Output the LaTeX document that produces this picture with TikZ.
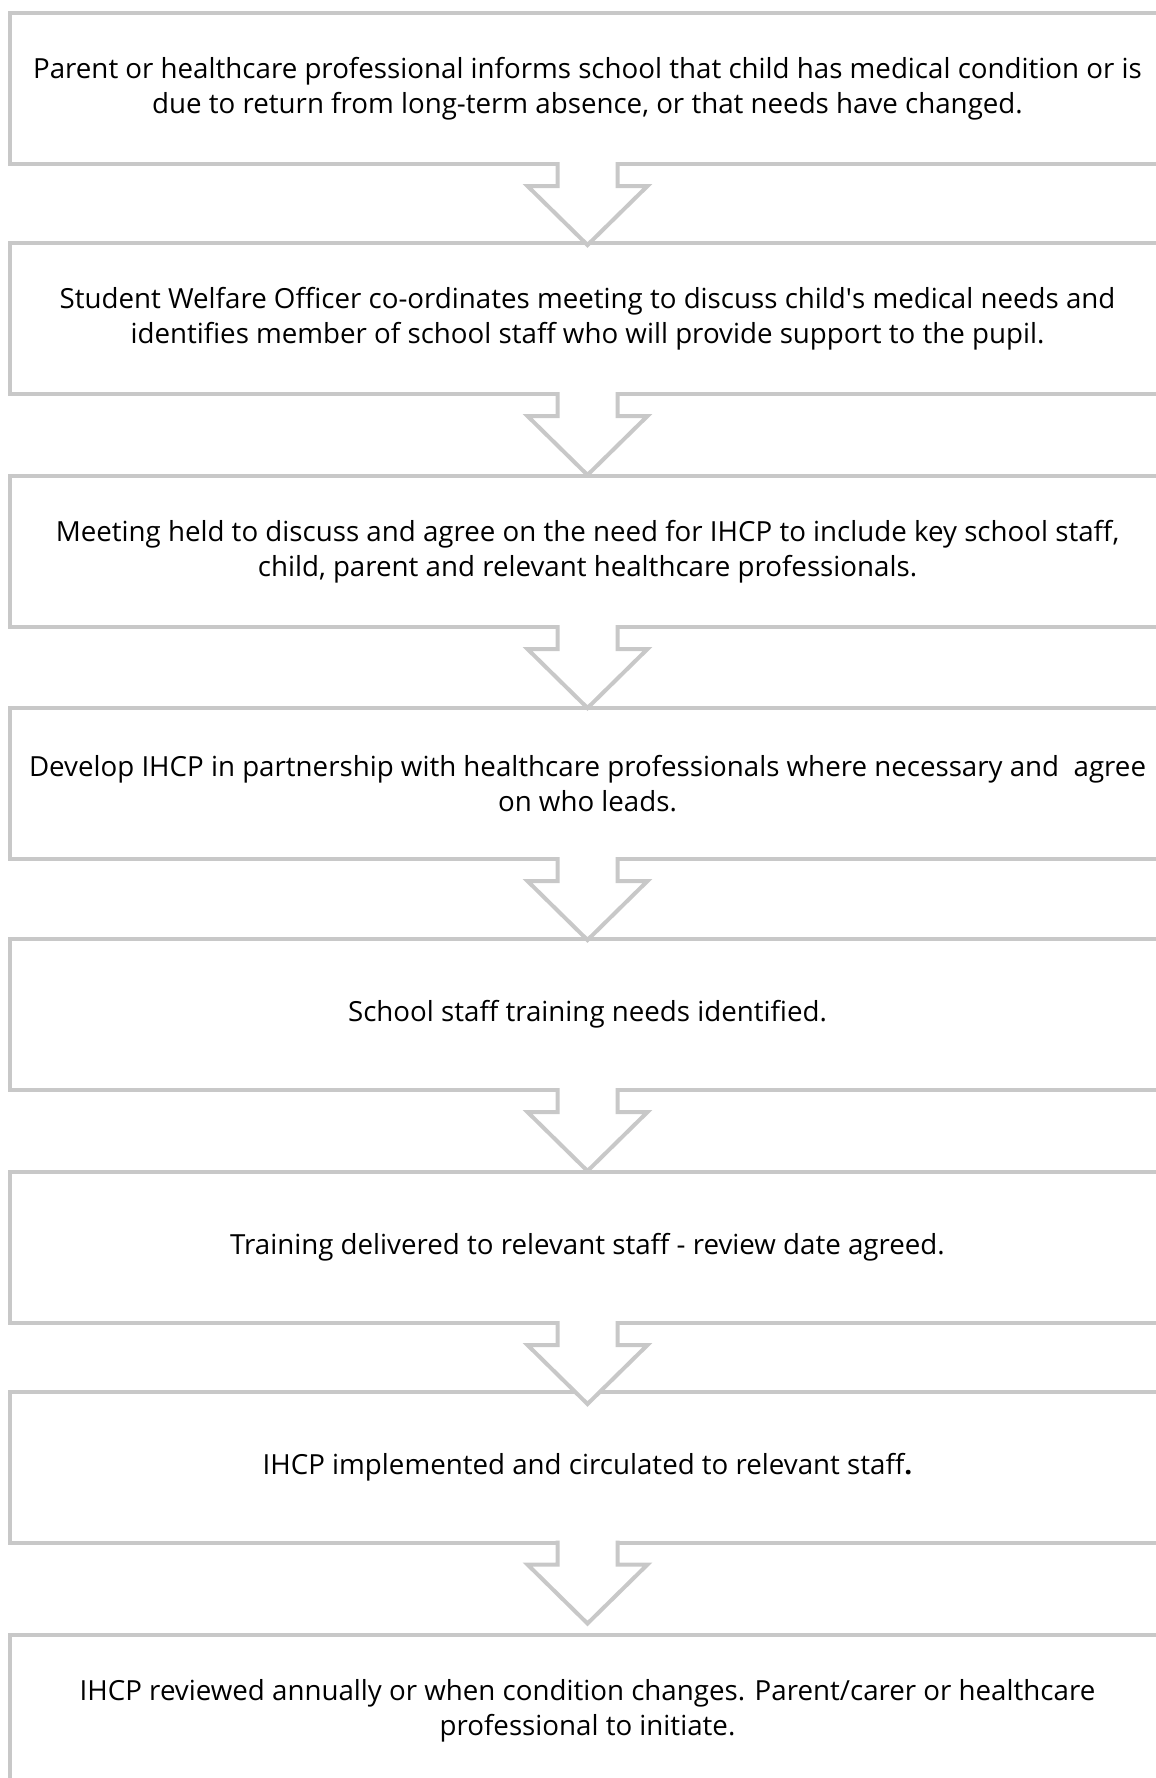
\documentclass[tikz,border=0pt]{standalone}
\usepackage{fontspec}
\setmainfont{Open Sans}
\usetikzlibrary{calc}
\definecolor{boxgray}{RGB}{200,200,200}
\begin{document}
\begin{tikzpicture}[x=1pt,y=-1pt,
  stepbox/.style={draw=boxgray, line width=4pt, outer sep=0pt, inner sep=0pt,
    minimum width=1155pt, minimum height=151pt, align=center,
    font=\fontsize{27.7}{35}\selectfont},
  flowarrow/.style={draw=boxgray, line width=4pt, fill=white, line join=miter}]
\useasboundingbox (0,0) rectangle (1156,1778);
\node[stepbox] (b1) at (587.5,88.5) {Parent or healthcare professional informs school that child has medical condition or is\\due to return from long-term absence, or that needs have changed.};
\node[stepbox] (b2) at (587.5,318.5) {Student Welfare Officer co-ordinates meeting to discuss child\textquotesingle s medical needs and\\identifies member of school staff who will provide support to the pupil.};
\node[stepbox] (b3) at (587.5,551.5) {Meeting held to discuss and agree on the need for IHCP to include key school staff,\\child, parent and relevant healthcare professionals.};
\node[stepbox] (b4) at (587.5,783.5) {Develop IHCP in partnership with healthcare professionals where necessary and\ \ agree\\on who leads.};
\node[stepbox] (b5) at (587.5,1014.5) {School staff training needs identified.};
\node[stepbox] (b6) at (587.5,1247.5) {Training delivered to relevant staff - review date agreed.};
\node[stepbox] (b7) at (587.5,1467) {IHCP implemented and circulated to relevant staff{\bfseries .}};
\node[stepbox] (b8) at (587.5,1710.5) {IHCP reviewed annually or when condition changes. Parent/carer or healthcare\\professional to initiate.};
\foreach \a/\b in {b1/b2,b2/b3,b3/b4,b4/b5,b5/b6,b6/b7,b7/b8}{
  \filldraw[flowarrow] ($(\a.south)+(-30,-2)$) -- ++(0,24) -- ++(-30,0)
    -- ($(\a.south)+(0,81)$) -- ++(60,-59) -- ++(-30,0) -- ++(0,-24);
}
\end{tikzpicture}
\end{document}
